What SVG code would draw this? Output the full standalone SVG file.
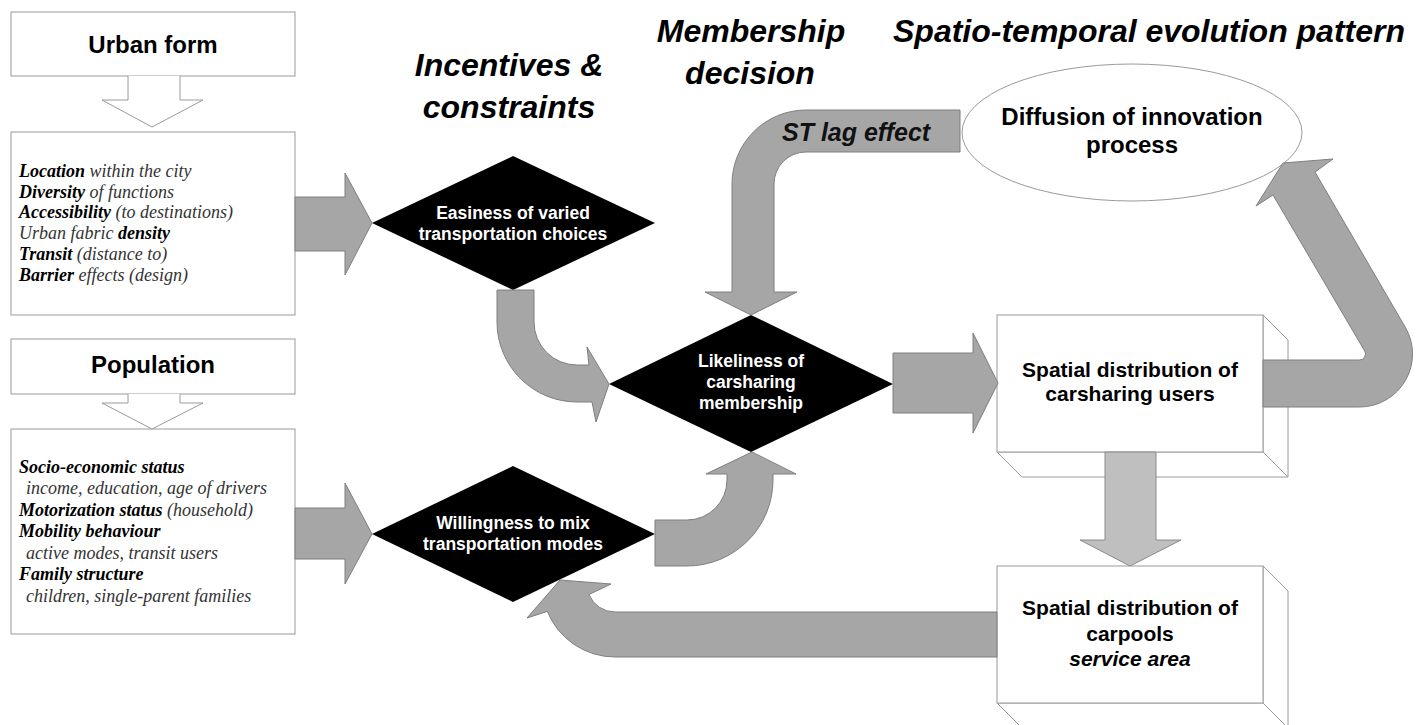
<svg xmlns="http://www.w3.org/2000/svg" width="1419" height="725" viewBox="0 0 1419 725">
<style>
.box{fill:#fff;stroke:#9a9a9a;stroke-width:1}
.dia{fill:#000}
.arr{fill:#a6a6a6;stroke:#7f7f7f;stroke-width:1;stroke-linejoin:miter}
.arr2{fill:#bfbfbf;stroke:#8a8a8a;stroke-width:1}
.hol{fill:#fff;stroke:#9a9a9a;stroke-width:1}
.ttl{font-family:"Liberation Sans",Arial,sans-serif;font-weight:bold;font-style:italic;font-size:32px;fill:#000;text-anchor:middle}
.hd{font-family:"Liberation Sans",Arial,sans-serif;font-weight:bold;font-size:24px;fill:#000;text-anchor:middle}
.lst{font-family:"Liberation Serif","Times New Roman",serif;font-style:italic;font-size:18px;fill:#333}
.lst .b{font-weight:bold;fill:#000}
.dt{font-family:"Liberation Sans",Arial,sans-serif;font-weight:bold;font-size:17.5px;fill:#fff;text-anchor:middle}
.bt{font-family:"Liberation Sans",Arial,sans-serif;font-weight:bold;font-size:21px;fill:#000;text-anchor:middle}
.et{font-family:"Liberation Sans",Arial,sans-serif;font-weight:bold;font-size:24px;fill:#000;text-anchor:middle}
.lag{font-family:"Liberation Sans",Arial,sans-serif;font-weight:bold;font-style:italic;font-size:25px;fill:#111}
</style>
<rect width="1419" height="725" fill="#fff"/>

<g id="titles">
<text class="ttl" x="509" y="76">Incentives &amp;</text>
<text class="ttl" x="509" y="118">constraints</text>
<text class="ttl" x="751" y="42">Membership</text>
<text class="ttl" x="750" y="84">decision</text>
<text class="ttl" x="1149" y="42">Spatio-temporal evolution pattern</text>
</g>

<g id="urban-form">
<rect class="box" x="11" y="12" width="284" height="64"/>
<text class="hd" x="153" y="53">Urban form</text>
</g>
<g id="urban-form-list">
<rect class="box" x="11" y="132" width="284" height="183"/>
<text class="lst" x="19" y="177"><tspan class="b">Location</tspan> within the city</text>
<text class="lst" x="19" y="198"><tspan class="b">Diversity</tspan> of functions</text>
<text class="lst" x="19" y="218"><tspan class="b">Accessibility</tspan> (to destinations)</text>
<text class="lst" x="19" y="239">Urban fabric <tspan class="b">density</tspan></text>
<text class="lst" x="19" y="260"><tspan class="b">Transit</tspan> (distance to)</text>
<text class="lst" x="19" y="281"><tspan class="b">Barrier</tspan> effects (design)</text>
</g>

<g id="population">
<rect class="box" x="11" y="339" width="284" height="55"/>
<text class="hd" x="153" y="373">Population</text>
</g>
<g id="population-list">
<rect class="box" x="11" y="429" width="284" height="205"/>
<text class="lst" x="19" y="473"><tspan class="b">Socio-economic status</tspan></text>
<text class="lst" x="26" y="494">income, education, age of drivers</text>
<text class="lst" x="19" y="516"><tspan class="b">Motorization status</tspan> (household)</text>
<text class="lst" x="19" y="537"><tspan class="b">Mobility behaviour</tspan></text>
<text class="lst" x="26" y="559">active modes, transit users</text>
<text class="lst" x="19" y="580"><tspan class="b">Family structure</tspan></text>
<text class="lst" x="26" y="602">children, single-parent families</text>
</g>

<g id="easiness">
<polygon class="dia" points="513,156 655,223 513,290 372,223"/>
<text class="dt" x="513" y="219">Easiness of varied</text>
<text class="dt" x="513" y="240">transportation choices</text>
</g>

<g id="likeliness">
<polygon class="dia" points="751,315 893,384 751,452 609,384"/>
<text class="dt" x="751" y="367">Likeliness of</text>
<text class="dt" x="751" y="388">carsharing</text>
<text class="dt" x="751" y="409">membership</text>
</g>

<g id="willingness">
<polygon class="dia" points="513,466 655,534 513,602 372,534"/>
<text class="dt" x="513" y="529">Willingness to mix</text>
<text class="dt" x="513" y="550">transportation modes</text>
</g>

<g id="diffusion">
<ellipse class="box" cx="1132" cy="132.5" rx="170" ry="68.5"/>
<text class="et" x="1132" y="125">Diffusion of innovation</text>
<text class="et" x="1132" y="153">process</text>
</g>

<g id="users">
<polygon class="box" points="1263,315 1288,340 1288,477 1263,452"/>
<polygon class="box" points="997,452 1263,452 1288,477 1022,477"/>
<rect class="box" x="997" y="315" width="266" height="137"/>
<text class="bt" x="1130" y="377">Spatial distribution of</text>
<text class="bt" x="1130" y="401">carsharing users</text>
</g>

<g id="carpools">
<polygon class="box" points="1263,566 1288,591 1288,728 1263,703"/>
<polygon class="box" points="997,703 1263,703 1288,728 1022,728"/>
<rect class="box" x="997" y="566" width="266" height="137"/>
<text class="bt" x="1130" y="615">Spatial distribution of</text>
<text class="bt" x="1130" y="641">carpools</text>
<text class="bt" x="1130" y="666" font-style="italic">service area</text>
</g>

<g id="connectors">
<path class="hol" d="M128,76 L128,100 L102,100 L152,127 L203,100 L180,100 L180,76"/>
<path class="hol" d="M128,394 L128,403 L102,403 L152,429 L203,403 L180,403 L180,394"/>
<path class="arr" d="M295,197 L345,197 L345,173 L372,223 L345,275 L345,251 L295,251 Z"/>
<path class="arr" d="M295,508 L345,508 L345,483 L372,534 L345,584 L345,559 L295,559 Z"/>
<path class="arr" d="M497,290 L534,290 L534,322 A43,43 0 0 0 577,365 L589,365 L587,347 L609,384 L596,422 L592,402 L577,402 A80,80 0 0 1 497,322 Z"/>
<path class="arr" d="M655,520 L687,520 A40,40 0 0 0 727,480 L727,474 L706,474 L752,452 L796,474 L773,474 L773,480 A86,86 0 0 1 687,566 L655,566 Z"/>
<path class="arr" d="M960,110 L806,110 A74,74 0 0 0 732,184 L732,292 L705,292 L751,315 L797,292 L774,292 L774,184 A32,32 0 0 1 806,152 L960,152 Z"/>
<text class="lag" x="782" y="141">ST lag effect</text>
<path class="arr" d="M893,353 L973,353 L973,333 L998,383 L973,433 L973,413 L893,413 Z"/>
<path class="arr" d="M1263,360 L1359.5,360 A6,6 0 0 0 1364.7,351 L1273,195 L1256,206 L1283,163 L1333,159 L1315,172 L1405.2,327.1 A53,53 0 0 1 1359.5,407 L1263,407 Z"/>
<path class="arr2" d="M1105,452 L1156,452 L1156,540 L1181,540 L1130,566 L1080,540 L1105,540 Z"/>
<path class="arr" d="M997,612 L615,612 A28,28 0 0 1 589,594.5 L611,584 L560,580 L527,618 L547.3,611.4 A73,73 0 0 0 615,657 L997,657 Z"/>
</g>
</svg>
